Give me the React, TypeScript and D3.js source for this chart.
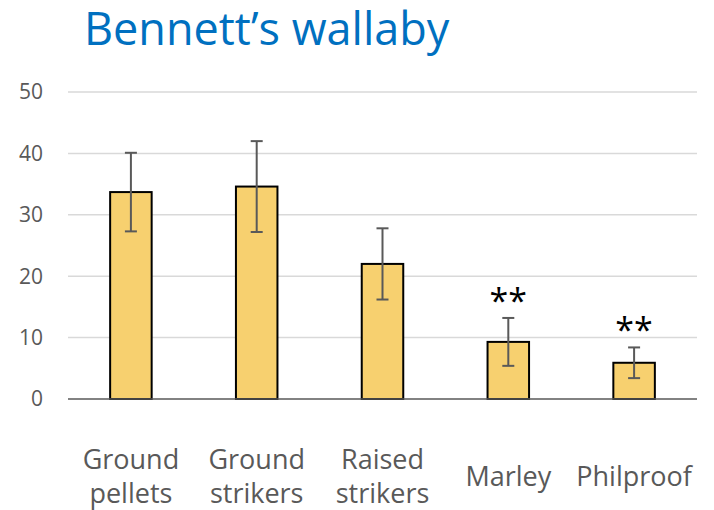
import React from 'react';
import * as d3 from 'd3';

const categories = [['Ground', 'pellets'], ['Ground', 'strikers'], ['Raised', 'strikers'], ['Marley'], ['Philproof']];
const means = [33.7, 34.6, 22.0, 9.3, 5.9];
const errors = [6.4, 7.4, 5.8, 3.9, 2.5];
const marks = ['', '', '', '**', '**'];
const yTicks = [0, 10, 20, 30, 40, 50];

const W = 714;
const H = 510;
const margin = { top: 92, right: 17, bottom: 111, left: 68 };
const font = '"Open Sans", "Noto Sans", sans-serif';

const App: React.FC = () => {
  const innerW = W - margin.left - margin.right;
  const innerH = H - margin.top - margin.bottom;

  const x = d3.scaleBand<number>()
    .domain(d3.range(means.length))
    .range([0, innerW])
    .paddingInner(0.67)
    .paddingOuter(0.335);

  const y = d3.scaleLinear().domain([0, 50]).range([innerH, 0]);

  return (
    <svg width={W} height={H} style={{ position: 'absolute', left: 0, top: 0, background: 'white' }}>
      <text x={84} y={45} fontFamily={font} fontSize={45} fill="#0070C0">Bennett’s wallaby</text>
      <g transform={`translate(${margin.left},${margin.top})`}>
        {/* grid */}
        {yTicks.map(t => (
          <g key={t}>
            {t > 0 && <line x1={0} x2={innerW} y1={y(t)} y2={y(t)} stroke="#D9D9D9" strokeWidth={1.5} />}
            <text x={-25} y={y(t)} dy="0.35em" textAnchor="end" fontFamily={font} fontSize={21} fill="#595959">{t}</text>
          </g>
        ))}
        {/* bars */}
        {means.map((m, i) => {
          const bx = x(i) as number;
          const cx = bx + x.bandwidth() / 2;
          return (
            <g key={i}>
              <rect x={bx} y={y(m)} width={x.bandwidth()} height={innerH - y(m)} fill="#F7D06F" stroke="#000" strokeWidth={2} />
              <line x1={cx} x2={cx} y1={y(m + errors[i])} y2={y(m - errors[i])} stroke="#595959" strokeWidth={2} />
              <line x1={cx - 6} x2={cx + 6} y1={y(m + errors[i])} y2={y(m + errors[i])} stroke="#595959" strokeWidth={2} />
              <line x1={cx - 6} x2={cx + 6} y1={y(m - errors[i])} y2={y(m - errors[i])} stroke="#595959" strokeWidth={2} />
              {marks[i] && (
                <text x={cx} y={y(m + errors[i]) - 5} textAnchor="middle" fontFamily={font} fontSize={34} fill="#000">{marks[i]}</text>
              )}
            </g>
          );
        })}
        <line x1={0} x2={innerW} y1={innerH} y2={innerH} stroke="#595959" strokeWidth={1.5} />
        {/* category labels */}
        {categories.map((lines, i) => {
          const cx = (x(i) as number) + x.bandwidth() / 2;
          const startY = lines.length === 2 ? innerH + 70 : innerH + 87;
          return (
            <text key={i} textAnchor="middle" fontFamily={font} fontSize={27} fill="#595959">
              {lines.map((l, j) => (
                <tspan key={j} x={cx} y={startY + j * 34}>{l}</tspan>
              ))}
            </text>
          );
        })}
      </g>
    </svg>
  );
};

export default App;
